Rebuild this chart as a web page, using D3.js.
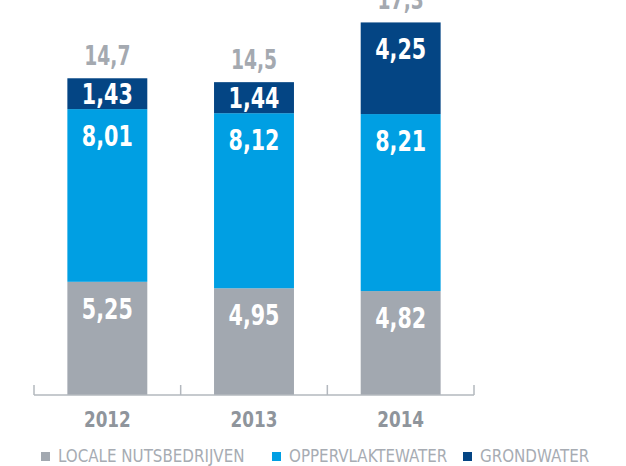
<!doctype html>
<html lang="nl">
  <head>
    <meta charset="utf-8">
    <title>watergebruik</title>
    <script src="https://d3js.org/d3.v7.min.js"></script>
    <style>
      html, body {
        margin: 0;
        padding: 0;
        background: #fff;
      }
      svg text {
        font-family: 'DejaVu Sans Condensed', 'DejaVu Sans', sans-serif;
      }
    </style>
  </head>
  <body>
    <div id="root"></div>
  </body>
  <script>

    //data:
    const years = ['2012', '2013', '2014'];
    const seriesNames = ['LOCALE NUTSBEDRIJVEN', 'OPPERVLAKTEWATER', 'GRONDWATER'];
    const locale = [5.25, 4.95, 4.82];
    const oppervlakte = [8.01, 8.12, 8.21];
    const grond = [1.43, 1.44, 4.25];
    const totals = ['14,7', '14,5', '17,3'];
    const colors = ['#a2a8b0', '#009fe3', '#044584'];

    const width = 626;
    const height = 466;
    const baseline = 395;

    const rows = years.map((y, i) => ({
      year: y,
      [seriesNames[0]]: locale[i],
      [seriesNames[1]]: oppervlakte[i],
      [seriesNames[2]]: grond[i]
    }));
    const stacked = d3.stack().keys(seriesNames)(rows);

    //scales:
    const x = d3.scaleBand()
      .domain(years)
      .range([34, 474])
      .paddingInner(0.455)
      .paddingOuter(0.2275);

    const y = d3.scaleLinear()
      .domain([0, 17.3])
      .range([baseline, 22]);

    const svg = d3.select('#root')
      .append('svg')
      .attr('width', width)
      .attr('height', height);

    // the original font is a narrow one, so squeeze the text horizontally
    const squeeze = (sx, fx, fy) => (d, i) => `translate(${fx(d, i)}, ${fy(d, i)}) scale(${sx}, 1)`;
    const cx = year => x(year) + x.bandwidth() / 2;

    //bars:
    const layers = svg.selectAll('g.layer')
      .data(stacked)
      .enter()
      .append('g')
      .attr('class', 'layer')
      .attr('fill', (d, i) => colors[i]);

    layers.selectAll('rect')
      .data(d => d)
      .enter()
      .append('rect')
      .attr('x', d => x(d.data.year))
      .attr('y', d => y(d[1]))
      .attr('width', x.bandwidth())
      .attr('height', d => y(d[0]) - y(d[1]));

    //segment labels, near the top of each segment
    layers.selectAll('text')
      .data(d => d.map(p => ({ p, v: p[1] - p[0] })))
      .enter()
      .append('text')
      .attr('transform', squeeze(0.82,
        d => cx(d.p.data.year),
        d => {
          const top = y(d.p[1]);
          const mid = (y(d.p[0]) + top) / 2;
          return Math.min(top + 37, mid + 10);
        }))
      .attr('text-anchor', 'middle')
      .attr('fill', '#fff')
      .attr('font-size', 28)
      .attr('font-weight', 'bold')
      .text(d => d3.format('.2f')(d.v).replace('.', ','));

    //totals
    svg.selectAll('text.total')
      .data(rows)
      .enter()
      .append('text')
      .attr('class', 'total')
      .attr('transform', squeeze(0.8,
        d => cx(d.year),
        (d, i) => y(locale[i] + oppervlakte[i] + grond[i]) - 13))
      .attr('text-anchor', 'middle')
      .attr('fill', '#a4a9b0')
      .attr('font-size', 26)
      .attr('font-weight', 'bold')
      .text((d, i) => totals[i]);

    //axis
    const step = x.step();
    const edges = years.map(d => x(d) - step * x.paddingInner() / 2).concat([474]);
    const axisColor = '#b3b8be';
    svg.append('line')
      .attr('x1', 34).attr('x2', 474)
      .attr('y1', baseline).attr('y2', baseline)
      .attr('stroke', axisColor)
      .attr('stroke-width', 1.5);
    svg.selectAll('line.tick')
      .data(edges)
      .enter()
      .append('line')
      .attr('class', 'tick')
      .attr('x1', d => d).attr('x2', d => d)
      .attr('y1', baseline - 10).attr('y2', baseline)
      .attr('stroke', axisColor)
      .attr('stroke-width', 1.5);

    const xAxis = d3.axisBottom(x).tickSize(0).tickPadding(0);
    const gx = svg.append('g')
      .attr('transform', `translate(0, ${baseline})`)
      .call(xAxis);
    gx.select('.domain').remove();
    gx.selectAll('text')
      .attr('y', 32)
      .attr('dy', 0)
      .attr('transform', 'scale(0.85, 1)')
      .attr('fill', '#8f959c')
      .attr('font-size', 22)
      .attr('font-weight', 'bold')
      .style('font-family', "'DejaVu Sans Condensed', 'DejaVu Sans', sans-serif");

    //legend
    const legendX = [41, 272, 463];
    const legend = svg.selectAll('g.legend')
      .data(seriesNames)
      .enter()
      .append('g')
      .attr('class', 'legend')
      .attr('transform', (d, i) => `translate(${legendX[i]}, 452)`);
    legend.append('rect')
      .attr('x', 0).attr('y', 0)
      .attr('width', 9).attr('height', 9)
      .attr('fill', (d, i) => colors[i]);
    legend.append('text')
      .attr('x', 17)
      .attr('y', 10)
      .attr('fill', '#a7acb3')
      .attr('font-size', 16.8)
      .text(d => d);

  </script>
</html>
